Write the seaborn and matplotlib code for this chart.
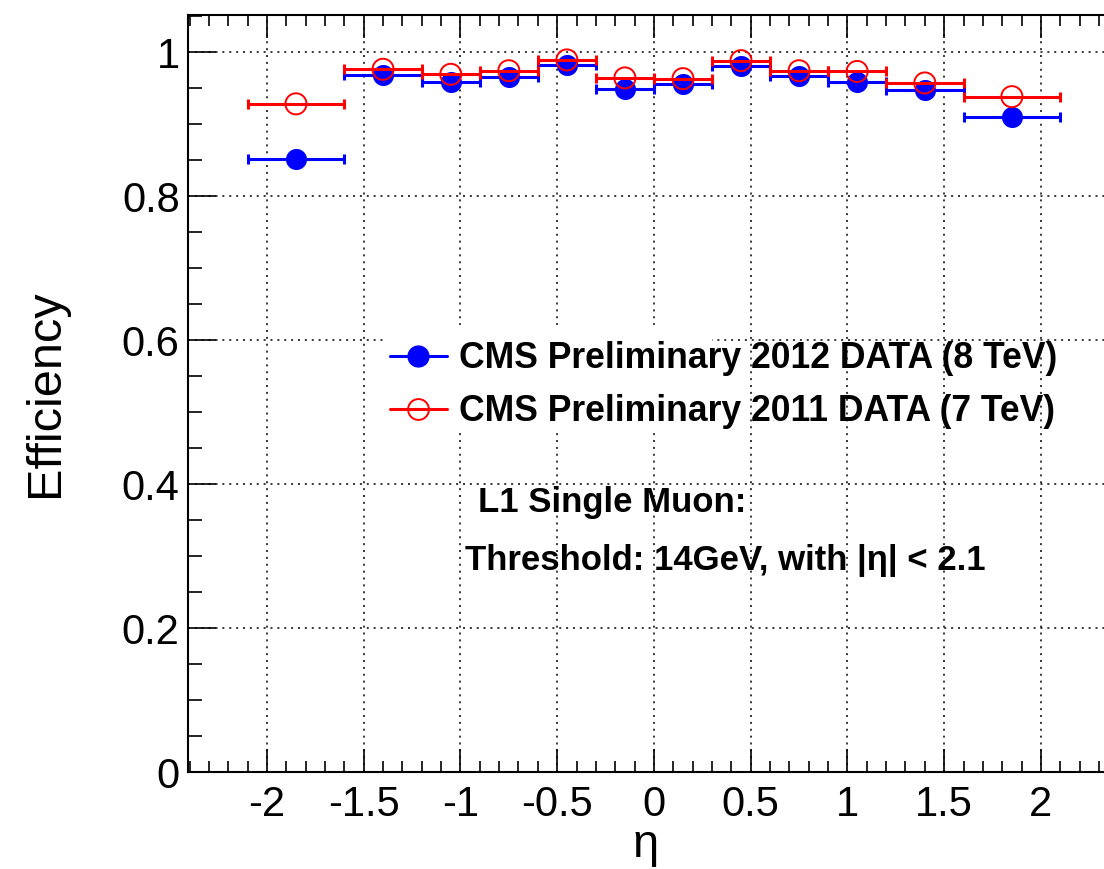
import numpy as np
import pandas as pd
import matplotlib
matplotlib.use("Agg")
import matplotlib.pyplot as plt
import seaborn as sns
from matplotlib.lines import Line2D
from matplotlib.patches import Rectangle
from matplotlib.ticker import MultipleLocator

# Pseudorapidity binning of the L1 muon trigger efficiency measurement
eta_edges = [-2.1, -1.6, -1.2, -0.9, -0.6, -0.3, 0.0, 0.3, 0.6, 0.9, 1.2, 1.6, 2.1]
eff_2012 = [0.852, 0.968, 0.958, 0.965, 0.982, 0.949, 0.955, 0.980, 0.966, 0.958, 0.947, 0.910]
eff_2011 = [0.928, 0.976, 0.969, 0.974, 0.989, 0.964, 0.963, 0.988, 0.974, 0.973, 0.957, 0.938]
series_labels = ["CMS Preliminary 2012 DATA (8 TeV)", "CMS Preliminary 2011 DATA (7 TeV)"]
note_lines = ["L1 Single Muon:", "Threshold: 14GeV, with |η| < 2.1"]
x_ticks = [-2, -1.5, -1, -0.5, 0, 0.5, 1, 1.5, 2]
y_ticks = [0, 0.2, 0.4, 0.6, 0.8, 1]

edges = np.array(eta_edges)
centers = 0.5 * (edges[:-1] + edges[1:])
half_w = 0.5 * (edges[1:] - edges[:-1])
df = pd.DataFrame({"eta": np.concatenate([centers, centers]),
                   "eff": eff_2012 + eff_2011,
                   "sample": [series_labels[0]] * len(centers) + [series_labels[1]] * len(centers)})

sns.set_theme(style="ticks")
plt.rcParams["font.family"] = ["Liberation Sans", "DejaVu Sans"]
for key in ["text.color", "axes.labelcolor", "xtick.color", "ytick.color",
            "xtick.labelcolor", "ytick.labelcolor"]:
    plt.rcParams[key] = "black"

fig = plt.figure(figsize=(11.04, 8.69), dpi=100)
ax = fig.add_axes([188 / 1104, 1 - 772 / 869, 1 - 188 / 1104, (772 - 15) / 869])

ax.set_xlim(-2.408, 2.326)
ax.set_ylim(0, 1.0514)

# dotted grid at the major ticks
ax.set_axisbelow(True)
ax.grid(True, which="major", color="black", linestyle=(0, (1.3, 3.2)), linewidth=1.1)

# white box behind the legend keys
ax.add_patch(Rectangle((-1.39, 0.471), 1.69, 0.150, facecolor="white",
                       edgecolor="none", zorder=1))

blue = "#0000ff"
red = "#ff0000"
d12 = df[df["sample"] == series_labels[0]]
d11 = df[df["sample"] == series_labels[1]]

ax.errorbar(d12["eta"], d12["eff"], xerr=half_w, fmt="none", ecolor=blue,
            elinewidth=2.2, capsize=3.5, capthick=2.2, zorder=3)
sns.scatterplot(data=d12, x="eta", y="eff", ax=ax, color=blue, s=230,
                marker="o", edgecolor=blue, linewidth=0, zorder=4, legend=False)
ax.errorbar(d11["eta"], d11["eff"], xerr=half_w, fmt="none", ecolor=red,
            elinewidth=2.2, capsize=3.5, capthick=2.2, zorder=5)
sns.scatterplot(data=d11, x="eta", y="eff", ax=ax, s=230, marker="o",
                facecolor="none", edgecolor=red, linewidth=1.4, zorder=6, legend=False)

handles = [
    Line2D([], [], color=blue, lw=2.2, marker="o", markersize=15,
           markerfacecolor=blue, markeredgecolor=blue),
    Line2D([], [], color=red, lw=2.2, marker="o", markersize=15,
           markerfacecolor="none", markeredgecolor=red, markeredgewidth=1.4),
]
leg = ax.legend(handles, series_labels, loc="upper left",
                bbox_to_anchor=(-1.364, 0.598), bbox_transform=ax.transData,
                frameon=False, borderpad=0, borderaxespad=0, handlelength=1.6,
                handletextpad=0.35, labelspacing=0.5,
                prop={"size": 25.6, "weight": "bold"})
leg.set_zorder(10)

ax.text(-0.910, 0.374, note_lines[0], fontsize=25, fontweight="bold",
        ha="left", va="center", zorder=10)
ax.text(-0.977, 0.294, note_lines[1], fontsize=25, fontweight="bold",
        ha="left", va="center", zorder=10)

# axis ticks: major and minor, all pointing inward, mirrored on top
ax.set_xticks(x_ticks)
ax.set_xticklabels([f"{t:g}" for t in x_ticks])
ax.set_yticks(y_ticks)
ax.set_yticklabels([f"{t:g}" for t in y_ticks])
ax.xaxis.set_minor_locator(MultipleLocator(0.1))
ax.yaxis.set_minor_locator(MultipleLocator(0.05))
ax.tick_params(axis="x", which="both", direction="in", top=True, bottom=True,
               labelsize=30, pad=9, width=1.2, color="black", labelcolor="black")
ax.tick_params(axis="x", which="major", length=16.5)
ax.tick_params(axis="x", which="minor", length=8)
ax.tick_params(axis="y", which="both", direction="in", left=True, right=False,
               labelsize=30, pad=6, width=1.2, color="black", labelcolor="black")
ax.tick_params(axis="y", which="major", length=20)
ax.tick_params(axis="y", which="minor", length=10)

for side in ["left", "bottom", "top"]:
    ax.spines[side].set_visible(True)
    ax.spines[side].set_linewidth(1.5)
    ax.spines[side].set_color("black")
ax.spines["right"].set_visible(False)

ax.set_xlabel("η", fontsize=34, color="black")
ax.set_ylabel("Efficiency", fontsize=35, color="black")
ax.xaxis.set_label_coords(0.5, -0.068)
ax.yaxis.set_label_coords(-0.131, 0.5)

fig.savefig("out.png", dpi=100)
